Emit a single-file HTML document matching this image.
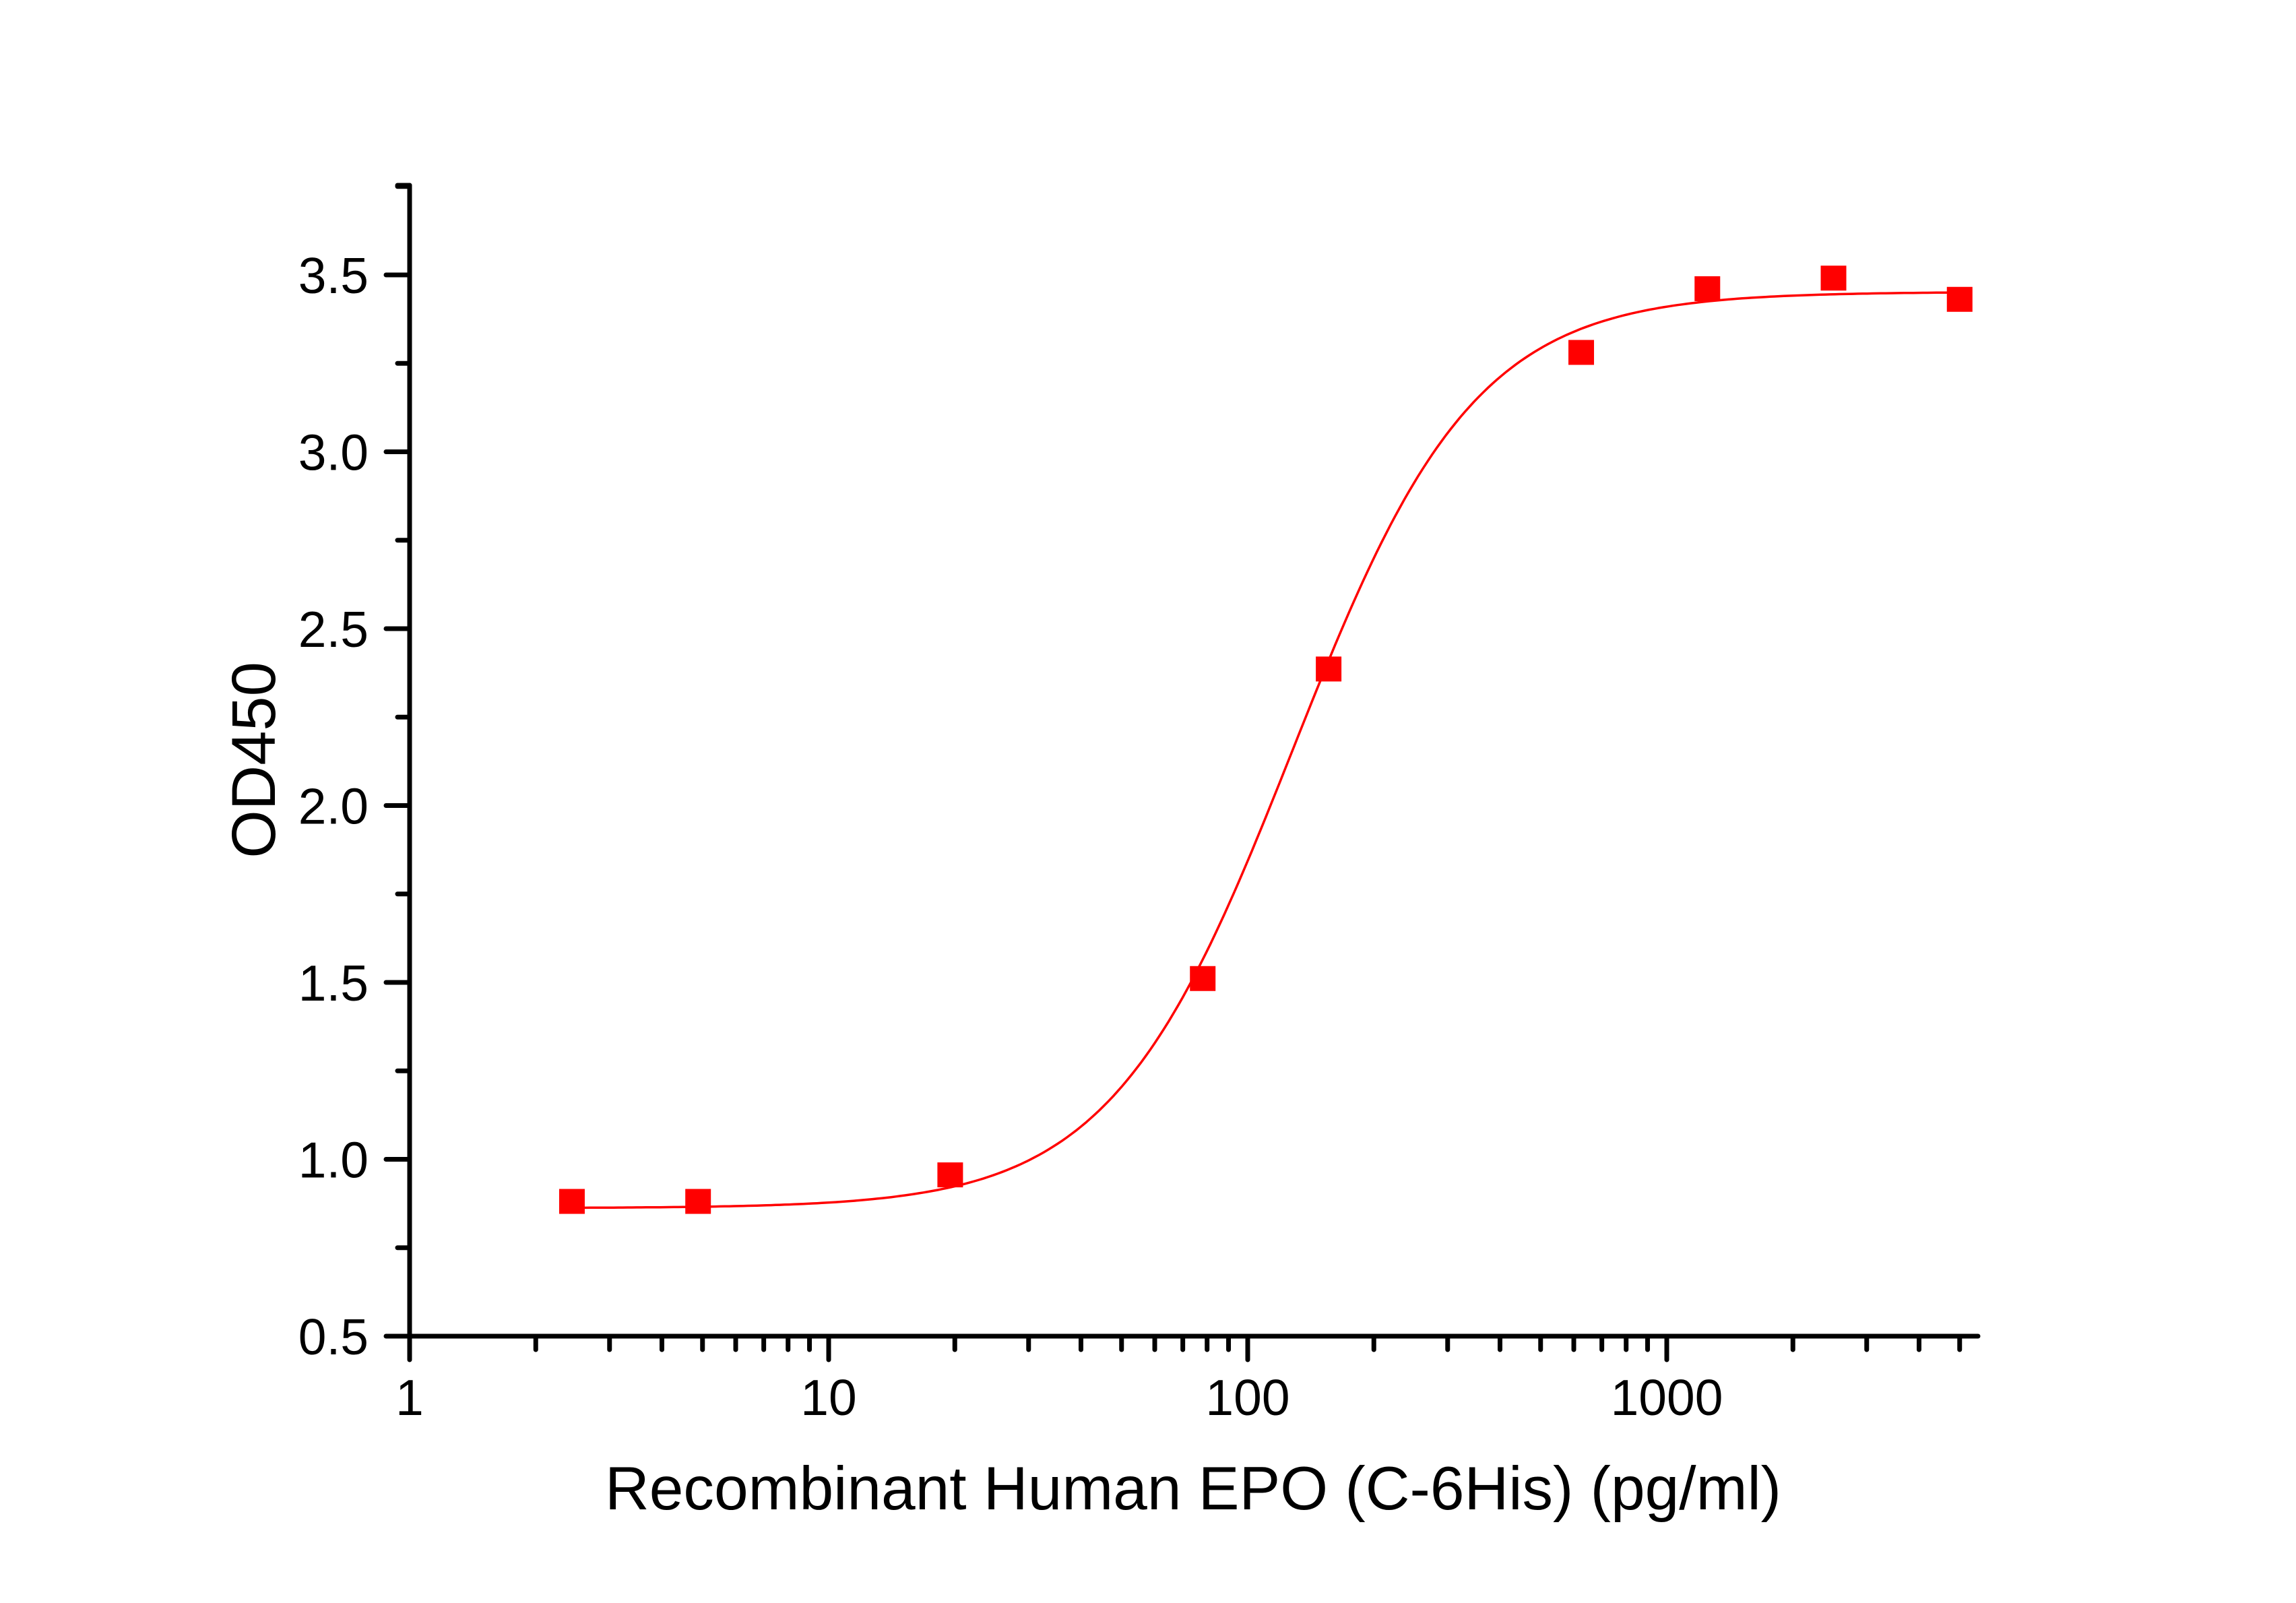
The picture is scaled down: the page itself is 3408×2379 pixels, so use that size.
<!DOCTYPE html>
<html><head><meta charset="utf-8"><style>
html,body{margin:0;padding:0;background:#fff;}
svg{display:block;}
text{font-family:"Liberation Sans",Arial,sans-serif;fill:#000;}
</style></head><body>
<svg id="s" width="3408" height="2379" viewBox="0 0 3408 2379" xmlns="http://www.w3.org/2000/svg">
<rect width="3408" height="2379" fill="#fff"/>
<g id="ax" stroke="#000" stroke-width="7" stroke-linecap="round" fill="none"></g>
<g id="lab" font-size="75"></g>
<path id="curve" fill="none" stroke="#ff0000" stroke-width="3.5"/>
<g id="pts" fill="#ff0000"></g>
<text x="1771" y="2240" font-size="91" text-anchor="middle" textLength="1746" lengthAdjust="spacingAndGlyphs">Recombinant Human EPO (C-6His) (pg/ml)</text>
<text transform="translate(408,1128) rotate(-90)" font-size="92" text-anchor="middle">OD450</text>
</svg>
<script>
var X0=608,D=622,Y0=1983,U=525;
function px(v){return X0+Math.log10(v)*D;}
function py(v){return Y0-(v-0.5)*U;}
var ax=document.getElementById('ax'),lab=document.getElementById('lab');
var NS='http://www.w3.org/2000/svg';
function line(x1,y1,x2,y2){var l=document.createElementNS(NS,'line');l.setAttribute('x1',x1);l.setAttribute('y1',y1);l.setAttribute('x2',x2);l.setAttribute('y2',y2);ax.appendChild(l);}
function txt(x,y,s,a){var t=document.createElementNS(NS,'text');t.setAttribute('x',x);t.setAttribute('y',y);t.setAttribute('text-anchor',a);t.textContent=s;lab.appendChild(t);}
line(X0,275,X0,Y0);line(X0,Y0,2936,Y0);
for(var i=0;i<=13;i++){var v=0.5+i*0.25;var y=py(v);
 if(i%2==0){line(573,y,X0,y);txt(547,y+27,v.toFixed(1),'end');}else line(590,y,X0,y);}
line(590,275,X0,275);
for(var d=0;d<4;d++){for(var k=1;k<10;k++){var v=Math.pow(10,d)*k;if(v>5000)break;var x=px(v);
 if(k==1){line(x,Y0,x,2018);txt(x,2100,String(v),'middle');}else line(x,Y0,x,2003);}}
var A=0.862,T=3.452,C=128,H=2.0,p='';
for(var i=0;i<=300;i++){var lx=Math.log10(2.44)+i*(Math.log10(5000)-Math.log10(2.44))/300;var v=Math.pow(10,lx);
 var y=A+(T-A)/(1+Math.pow(C/v,H));p+=(i?'L':'M')+px(v).toFixed(1)+','+py(y).toFixed(1);}
document.getElementById('curve').setAttribute('d',p);
var data=[[2.44,0.88],[4.88,0.88],[19.5,0.955],[78.1,1.51],[156,2.385],[625,3.28],[1250,3.46],[2500,3.49],[5000,3.43]];
var g=document.getElementById('pts');
data.forEach(function(d){var r=document.createElementNS(NS,'rect');r.setAttribute('x',px(d[0])-19);r.setAttribute('y',py(d[1])-19);r.setAttribute('width',38);r.setAttribute('height',37);g.appendChild(r);});
</script>
</body></html>
